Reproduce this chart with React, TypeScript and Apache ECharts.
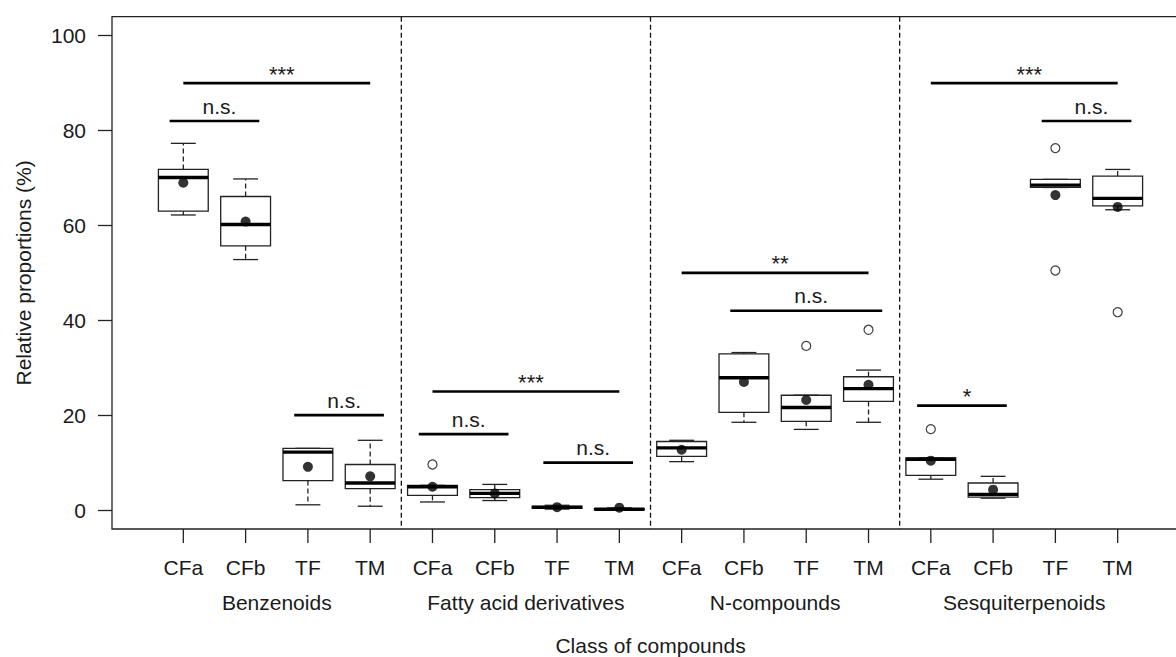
import { useEffect, useRef } from 'react';
import * as echarts from 'echarts';

// Compound classes and the four treatments plotted within each class
const groups = ['Benzenoids', 'Fatty acid derivatives', 'N-compounds', 'Sesquiterpenoids'];
const treatments = ['CFa', 'CFb', 'TF', 'TM'];

// Box positions along the x scale (one per class x treatment)
const positions = [1, 2, 3, 4, 5, 6, 7, 8, 9, 10, 11, 12, 13, 14, 15, 16];

// Five-number summaries per box: [lower whisker, Q1, median, Q3, upper whisker]
const boxStats = [
  [62.2, 63.0, 70.1, 71.8, 77.3],
  [52.8, 55.7, 60.2, 66.1, 69.8],
  [1.1, 6.2, 12.2, 13.0, 13.0],
  [0.8, 4.5, 5.7, 9.6, 14.7],
  [1.7, 3.1, 4.9, 5.2, 5.2],
  [2.0, 2.6, 3.5, 4.3, 5.4],
  [0.2, 0.35, 0.55, 0.8, 1.0],
  [0.0, 0.05, 0.15, 0.3, 0.45],
  [10.2, 11.3, 13.1, 14.45, 14.7],
  [18.5, 20.6, 27.9, 32.9, 33.2],
  [17.0, 18.7, 21.6, 24.2, 24.2],
  [18.5, 22.9, 25.6, 28.1, 29.5],
  [6.5, 7.3, 10.7, 11.0, 11.0],
  [2.5, 2.7, 3.3, 5.7, 7.1],
  [68.0, 68.0, 68.5, 69.7, 69.7],
  [63.3, 64.1, 65.7, 70.4, 71.8],
];

// Group means (filled dots)
const means = [69.0, 60.8, 9.1, 7.1, 4.9, 3.5, 0.6, 0.5, 12.7, 27.0, 23.2, 26.4, 10.4, 4.3, 66.4, 63.9];

// Outlying observations: [position, value]
const outliers = [
  [5, 9.6],
  [11, 34.6],
  [12, 38.0],
  [13, 17.05],
  [15, 76.3],
  [15, 50.5],
  [16, 41.7],
];

// Pairwise comparisons: [from x, to x, height, significance label]
const sigFrom = [1, 0.78, 2.78, 5, 4.78, 6.78, 9, 9.78, 13, 14.78, 12.78];
const sigTo = [4, 2.22, 4.22, 8, 6.22, 8.22, 12, 12.22, 16, 16.22, 14.22];
const sigHeight = [90, 82, 20, 25, 16, 10, 50, 42, 90, 82, 22];
const sigLabels = ['***', 'n.s.', 'n.s.', '***', 'n.s.', 'n.s.', '**', 'n.s.', '***', 'n.s.', '*'];

// Dashed separators between classes
const separators = [4.5, 8.5, 12.5];

// Axis ticks
const yTicks = [0, 20, 40, 60, 80, 100];
const groupCenters = [2.5, 6.5, 10.5, 14.5];
const Y_MIN = -4;
const Y_MAX = 104;

const FONT = '"Liberation Sans", Arial, Helvetica, sans-serif';
const INK = '#1a1a1a';

export default function App() {
  const ref = useRef<HTMLDivElement>(null);

  useEffect(() => {
    if (!ref.current) return;
    const chart = echarts.init(ref.current, undefined, { renderer: 'svg' });

    const textStyle = { fontSize: 21, color: INK, fontFamily: FONT };

    const option = {
      animation: false,
      backgroundColor: '#ffffff',
      grid: {
        left: 112,
        top: 16.7,
        width: 1077,
        height: 512.3,
        show: true,
        borderColor: '#222',
        borderWidth: 1.3,
        backgroundColor: 'transparent',
        containLabel: false,
        outerBoundsMode: 'none',
      },
      xAxis: [
        {
          type: 'value',
          min: -0.145,
          max: 17.145,
          position: 'bottom',
          splitLine: { show: false },
          axisLine: { show: false, onZero: false },
          axisTick: { show: false },
          axisLabel: {
            show: true,
            customValues: positions,
            margin: 28,
            formatter: (v: number) => treatments[(Math.round(v) - 1) % 4],
            ...textStyle,
          },
        },
        {
          type: 'value',
          min: -0.145,
          max: 17.145,
          position: 'bottom',
          offset: 0,
          splitLine: { show: false },
          axisLine: { show: false, onZero: false },
          axisTick: { show: false },
          axisLabel: {
            show: true,
            customValues: groupCenters,
            margin: 63,
            formatter: (v: number) => groups[Math.floor(v / 4)],
            ...textStyle,
          },
          name: 'Class of compounds',
          nameLocation: 'middle',
          nameGap: 106,
          nameTextStyle: textStyle,
        },
      ],
      yAxis: {
        type: 'value',
        min: Y_MIN,
        max: Y_MAX,
        splitLine: { show: false },
        axisLine: { show: false, onZero: false },
        axisTick: {
          show: true,
          customValues: yTicks,
          length: 14,
          inside: false,
          lineStyle: { color: '#222', width: 1.3 },
        },
        axisLabel: {
          show: true,
          customValues: yTicks,
          margin: 26,
          ...textStyle,
        },
        name: 'Relative proportions (%)',
        nameLocation: 'middle',
        nameGap: 78,
        nameTextStyle: textStyle,
      },
      series: [
        {
          // tick marks under each box, hanging below the frame
          type: 'custom',
          name: 'xticks',
          xAxisIndex: 0,
          z: 1,
          clip: false,
          data: positions.map((p) => [p]),
          renderItem: (_params: any, api: any) => {
            const base = api.coord([api.value(0), Y_MIN]);
            return {
              type: 'line',
              shape: { x1: base[0], y1: base[1], x2: base[0], y2: base[1] + 14 },
              style: { stroke: '#222', lineWidth: 1.3 },
            };
          },
        },
        {
          type: 'custom',
          name: 'separators',
          xAxisIndex: 0,
          z: 1,
          data: separators.map((v) => [v]),
          renderItem: (_params: any, api: any) => {
            const x = api.value(0);
            const top = api.coord([x, Y_MAX]);
            const bottom = api.coord([x, Y_MIN]);
            return {
              type: 'line',
              shape: { x1: top[0], y1: top[1], x2: bottom[0], y2: bottom[1] },
              style: { stroke: '#111', lineWidth: 1.3, lineDash: [5, 3] },
            };
          },
        },
        {
          type: 'custom',
          name: 'boxes',
          xAxisIndex: 0,
          z: 2,
          encode: { x: 0, y: [1, 2, 3, 4, 5] },
          data: boxStats.map((s, i) => [positions[i], ...s]),
          renderItem: (_params: any, api: any) => {
            const x = api.value(0);
            const cx = api.coord([x, 0])[0];
            const yMin = api.coord([x, api.value(1)])[1];
            const yQ1 = api.coord([x, api.value(2)])[1];
            const yMed = api.coord([x, api.value(3)])[1];
            const yQ3 = api.coord([x, api.value(4)])[1];
            const yMax = api.coord([x, api.value(5)])[1];
            const hw = (api.coord([x + 0.4, 0])[0] - api.coord([x - 0.4, 0])[0]) / 2;
            const cap = hw / 2;
            const thin = { stroke: '#222', lineWidth: 1.3 };
            const dashed = { stroke: '#222', lineWidth: 1.3, lineDash: [5, 3] };
            return {
              type: 'group',
              children: [
                { type: 'line', shape: { x1: cx, y1: yQ1, x2: cx, y2: yMin }, style: dashed },
                { type: 'line', shape: { x1: cx, y1: yQ3, x2: cx, y2: yMax }, style: dashed },
                { type: 'line', shape: { x1: cx - cap, y1: yMin, x2: cx + cap, y2: yMin }, style: thin },
                { type: 'line', shape: { x1: cx - cap, y1: yMax, x2: cx + cap, y2: yMax }, style: thin },
                {
                  type: 'rect',
                  shape: { x: cx - hw, y: yQ3, width: 2 * hw, height: yQ1 - yQ3 },
                  style: { fill: '#fff', stroke: '#222', lineWidth: 1.3 },
                },
                {
                  type: 'line',
                  shape: { x1: cx - hw, y1: yMed, x2: cx + hw, y2: yMed },
                  style: { stroke: '#000', lineWidth: 3.4 },
                },
              ],
            };
          },
        },
        {
          type: 'custom',
          name: 'comparisons',
          xAxisIndex: 0,
          z: 3,
          encode: { x: [0, 1], y: 2 },
          data: sigFrom.map((f, i) => [f, sigTo[i], sigHeight[i]]),
          renderItem: (params: any, api: any) => {
            const a = api.coord([api.value(0), api.value(2)]);
            const b = api.coord([api.value(1), api.value(2)]);
            const label = sigLabels[params.dataIndex];
            const stars = label.indexOf('*') >= 0;
            return {
              type: 'group',
              children: [
                {
                  type: 'line',
                  shape: { x1: a[0], y1: a[1], x2: b[0], y2: b[1] },
                  style: { stroke: '#000', lineWidth: 2.6 },
                },
                {
                  type: 'text',
                  x: (a[0] + b[0]) / 2 + 5,
                  y: a[1] - (stars ? 9 : 15),
                  style: {
                    text: label,
                    fontSize: stars ? 22 : 21,
                    fontFamily: FONT,
                    fill: INK,
                    align: 'center',
                    verticalAlign: 'middle',
                  },
                },
              ],
            };
          },
        },
        {
          type: 'scatter',
          name: 'outliers',
          xAxisIndex: 0,
          z: 4,
          symbol: 'circle',
          symbolSize: 9,
          itemStyle: { color: '#fff', borderColor: '#111', borderWidth: 1.2 },
          data: outliers,
        },
        {
          type: 'scatter',
          name: 'means',
          xAxisIndex: 0,
          z: 5,
          symbol: 'circle',
          symbolSize: 10,
          itemStyle: { color: '#000' },
          data: means.map((m, i) => [positions[i], m]),
        },
      ],
    };

    chart.setOption(option as any);
    return () => chart.dispose();
  }, []);

  return (
    <div
      ref={ref}
      style={{ position: 'fixed', left: 0, top: 0, width: 1176, height: 657, background: '#fff' }}
    />
  );
}
